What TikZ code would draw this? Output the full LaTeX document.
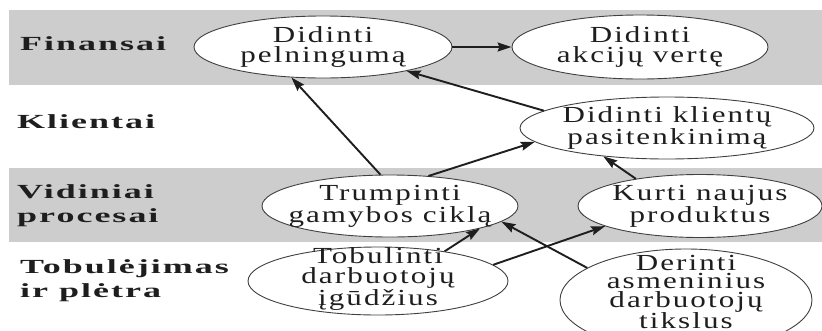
\documentclass[tikz,border=0pt]{standalone}
\usepackage{fontspec}
\setmainfont{Liberation Serif}
\newfontfamily\ellfont{Liberation Serif}[FakeStretch=1.35,LetterSpace=9]
\newfontfamily\rowfont{Liberation Serif}[UprightFont={* Bold},FakeStretch=1.8,LetterSpace=10]
\usetikzlibrary{shapes.geometric,arrows.meta}

\definecolor{band}{HTML}{CDCDCD}
\definecolor{ink}{HTML}{1E1E1E}

\begin{document}
\begin{tikzpicture}[x=1pt,y=-1pt,
  goal/.style={ellipse,draw=ink!85,line width=0.9pt,fill=white,inner sep=0pt},
  goaltext/.style={align=center,text=ink,inner sep=0pt,
    font=\ellfont\fontsize{23}{20}\selectfont},
  rowlabel/.style={align=left,text=ink,inner sep=0pt,
    font=\rowfont\fontsize{20}{24.5}\selectfont},
  link/.style={draw=ink,line width=1.9pt,
    -{Stealth[length=14pt,width=9pt,inset=2pt]}},
]
\useasboundingbox (0,0) rectangle (822,330);
\clip (0,0) rectangle (822,330);

% shaded perspective rows
\fill[band] (9,10) rectangle (822,85);
\fill[band] (9,168) rectangle (822,242);

% perspective names
\node[rowlabel,anchor=base west] (lfin) at (20,50) {Finansai};
\node[rowlabel,anchor=base west] (lkli) at (17,128) {Klientai};
\node[rowlabel,anchor=north west] (lvid) at (17,184) {Vidiniai\\procesai};
\node[rowlabel,anchor=north west] (ltob) at (20,259) {Tobulėjimas\\ir plėtra};

% strategic goals
\node[goal,minimum width=258pt,minimum height=62pt] (pel) at (323,47) {};
\node[goaltext] at (pel) {Didinti\\pelningumą};

\node[goal,minimum width=256pt,minimum height=64pt] (akc) at (640,47) {};
\node[goaltext] at (akc) {Didinti\\akcijų vertę};

\node[goal,minimum width=294pt,minimum height=62pt] (kli) at (667,128) {};
\node[goaltext] at (kli) {Didinti klientų\\pasitenkinimą};

\node[goal,minimum width=256pt,minimum height=62pt] (tru) at (390,206) {};
\node[goaltext] at (tru) {Trumpinti\\gamybos ciklą};

\node[goal,minimum width=244pt,minimum height=63pt] (kur) at (700,206) {};
\node[goaltext] at (kur) {Kurti naujus\\produktus};

\node[goal,minimum width=260pt,minimum height=68pt] (tob) at (378,281) {};
\node[goaltext] at ([yshift=2pt]tob.center) {Tobulinti\\darbuotojų\\įgūdžius};

\node[goal,minimum width=252pt,minimum height=102pt] (der) at (686,300) {};
\node[goaltext,font=\ellfont\fontsize{23}{18.5}\selectfont]
  at ([yshift=8pt]der.center) {Derinti\\asmeninius\\darbuotojų\\tikslus};

% cause and effect links
\draw[link] (pel.east) -- (akc.west);
\draw[link] (kli.172) -- (pel.-16);
\draw[link] (tru.107) -- (pel.-136);
\draw[link] (tru.38) -- (kli.186);
\draw[link] (kur.157) -- (kli.204);
\draw[link] (tob.24) -- (tru.-14);
\draw[link] (tob.8.5) -- (kur.192);
\draw[link] (der.162) -- (tru.-8);
\end{tikzpicture}
\end{document}
